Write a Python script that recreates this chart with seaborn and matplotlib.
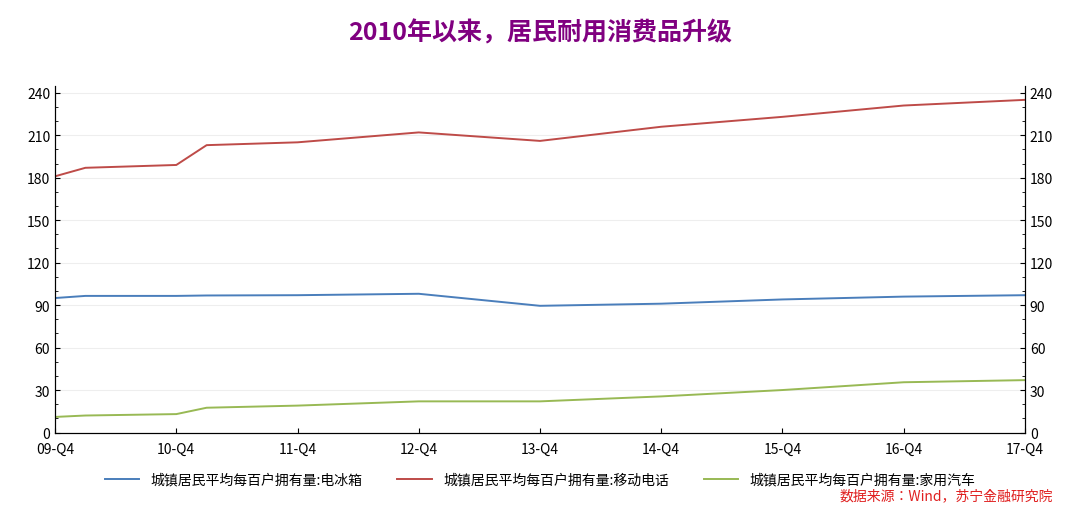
import matplotlib
matplotlib.use("Agg")
import matplotlib.pyplot as plt
import seaborn as sns
import pandas as pd
from matplotlib.ticker import MultipleLocator
from matplotlib import font_manager

cjk = [f.name for f in font_manager.fontManager.ttflist if "CJK" in f.name]
pref = [n for n in ["Noto Sans CJK SC", "Noto Sans CJK JP", "Noto Sans CJK TC", "Noto Sans CJK KR"] if n in cjk] or cjk[:1]
plt.rcParams["font.family"] = "sans-serif"
plt.rcParams["font.sans-serif"] = pref + ["DejaVu Sans"]

quarter_idx = [0, 1, 4, 5, 8, 12, 16, 20, 24, 28, 32]
fridge = [95, 96.5, 96.5, 96.8, 97, 98, 89.5, 91, 94, 96, 97]
mobile = [181, 187, 189, 203, 205, 212, 206, 216, 223, 231, 235]
car = [11, 12, 13, 17.5, 19, 22, 22, 25.5, 30, 35.5, 37]
tick_labels = ["09-Q4", "10-Q4", "11-Q4", "12-Q4", "13-Q4", "14-Q4", "15-Q4", "16-Q4", "17-Q4"]
names = ["城镇居民平均每百户拥有量:电冰箱", "城镇居民平均每百户拥有量:移动电话", "城镇居民平均每百户拥有量:家用汽车"]
colors = ["#4a7ebb", "#be4b48", "#98b954"]

df = pd.DataFrame({"q": quarter_idx * 3, "v": fridge + mobile + car,
                   "s": sum([[n] * len(quarter_idx) for n in names], [])})

fig = plt.figure(figsize=(10.8, 5.1), dpi=100)
ax = fig.add_axes([0.051, 0.15, 0.898, 0.68])
sns.lineplot(data=df, x="q", y="v", hue="s", palette=colors, ax=ax, linewidth=1.4)
ax.set_xlim(0, 32)
ax.set_ylim(0, 245)
ax.set_xticks(range(0, 33, 4))
ax.set_xticklabels(tick_labels, fontsize=10)
ax.set_yticks(range(0, 241, 30))
ax.yaxis.set_minor_locator(MultipleLocator(10))
ax.tick_params(axis="y", which="both", direction="in", labelsize=10)
ax.tick_params(axis="x", direction="in", pad=7)
ax.grid(axis="y", color="#eeeeee", linewidth=0.8)
ax.set_xlabel("")
ax.set_ylabel("")
ax.spines["top"].set_visible(False)
ax2 = ax.twinx()
ax2.set_ylim(ax.get_ylim())
ax2.set_yticks(range(0, 241, 30))
ax2.yaxis.set_minor_locator(MultipleLocator(10))
ax2.tick_params(axis="y", which="both", direction="in", labelsize=10)
ax2.spines["top"].set_visible(False)
ax.legend(loc="upper center", bbox_to_anchor=(0.5, -0.08), ncol=3, frameon=False,
          fontsize=10, handlelength=2.5, columnspacing=2.5)
fig.text(0.5, 0.92, "2010年以来，居民耐用消费品升级", ha="center", fontsize=18,
         fontweight="bold", color="#800080")
fig.text(0.975, 0.02, "数据来源：Wind，苏宁金融研究院", ha="right", fontsize=10,
         color="#e02020", style="italic")
fig.savefig("out.png", dpi=100)
